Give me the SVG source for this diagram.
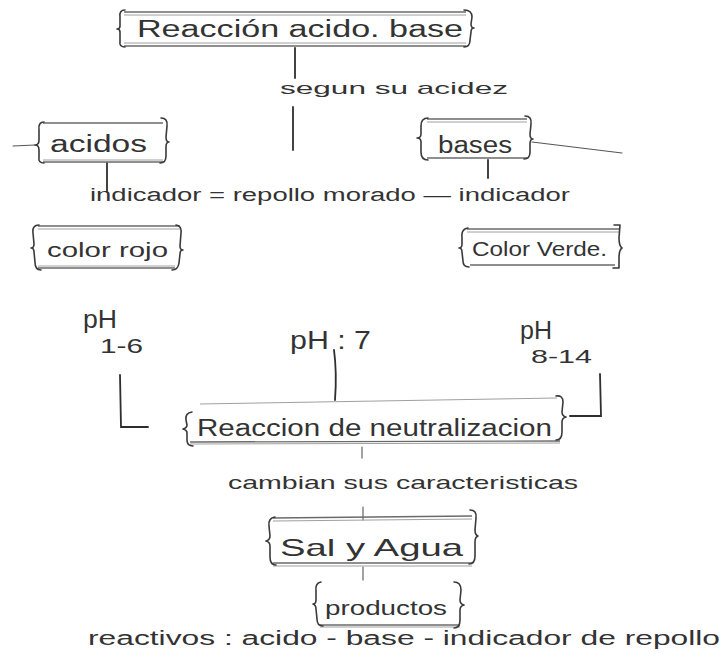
<svg xmlns="http://www.w3.org/2000/svg" width="728" height="653" viewBox="0 0 728 653">
  <style>
    .bg { fill: #ffffff; }
    .hand { font-family: "Liberation Sans", "DejaVu Sans", sans-serif; fill: #333333; }
    .brace { fill: none; stroke: #3a3a3a; stroke-width: 1.6; stroke-linecap: round; stroke-linejoin: round; }
    .rule { fill: none; stroke: #6a6a6a; stroke-width: 1.4; }
    .rule2 { fill: none; stroke: #a0a0a0; stroke-width: 1; }
    .link { fill: none; stroke: #2e2e2e; stroke-width: 1.8; stroke-linecap: round; }
    .thin { fill: none; stroke: #555555; stroke-width: 1.1; stroke-linecap: round; }
  </style>

  <rect class="bg" x="0" y="0" width="728" height="653"/>

  <!-- connectors -->
  <g id="connectors">
    <path class="link" d="M295 48 L295 78"/>
    <path class="link" d="M293 107 L293 150"/>
    <path class="thin" d="M13 146 L35 145"/>
    <path class="thin" d="M532 142 L622 153"/>
    <path class="link" d="M107 163 L107 192"/>
    <path class="link" d="M488 160 L488 178"/>
    <path class="link" d="M120 375 L121 427 L148 427"/>
    <path class="link" d="M334 350 Q337 372 335 400"/>
    <path class="link" d="M600 374 L601 416 L570 416"/>
    <path class="thin" d="M362 447 L362 458"/>
    <path class="thin" d="M363 507 L363 520"/>
    <path class="thin" d="M363 567 L363 580"/>
  </g>

  <!-- Reacción acido. base -->
  <g id="node-reaccion">
    <path class="rule" d="M124 12 L466 12"/>
    <path class="rule2" d="M124 15 L466 15"/>
    <path class="rule" d="M124 46 L466 46"/>
    <path class="rule2" d="M124 43 L466 43"/>
    <path class="brace" d="M125 10 Q119 10 120 17 L120 26 Q120 29 117 29 Q120 29 120 32 L120 41 Q119 47 125 47"/>
    <path class="brace" d="M464 10 Q472 10 472 17 L471 24 Q471 28 474 28 Q471 28 471 32 L470 40 Q470 47 464 47"/>
    <text class="hand" x="137" y="37" font-size="23" textLength="326" lengthAdjust="spacingAndGlyphs">Reacción  acido. base</text>
  </g>

  <g id="label-segun">
    <text class="hand" x="280" y="94" font-size="17" textLength="228" lengthAdjust="spacingAndGlyphs">segun  su acidez</text>
  </g>

  <!-- acidos -->
  <g id="node-acidos">
    <path class="rule" d="M43 123 L163 123"/>
    <path class="rule2" d="M43 160 L163 160"/>
    <path class="rule" d="M43 162 L163 162"/>
    <path class="brace" d="M44 122 Q38 122 39 130 L39 140 Q39 145 35 145 Q39 145 39 150 L39 157 Q38 163 44 163"/>
    <path class="brace" d="M161 118 Q168 118 167 126 L166 137 Q166 142 169 142 Q166 142 166 147 L166 156 Q166 163 160 163"/>
    <text class="hand" x="50" y="152" font-size="23" textLength="97" lengthAdjust="spacingAndGlyphs">acidos</text>
  </g>

  <!-- bases -->
  <g id="node-bases">
    <path class="rule" d="M427 119 L527 119"/>
    <path class="rule2" d="M427 122 L527 122"/>
    <path class="rule" d="M427 158 L527 158"/>
    <path class="brace" d="M428 118 Q421 118 421 126 L421 134 Q421 138 417 138 Q421 138 421 142 L421 152 Q421 160 428 160"/>
    <path class="brace" d="M525 116 Q532 116 531 124 L530 134 Q530 139 533 139 Q530 139 530 144 L530 152 Q530 159 524 159"/>
    <text class="hand" x="438" y="153" font-size="23" textLength="74" lengthAdjust="spacingAndGlyphs">bases</text>
  </g>

  <g id="label-indicador">
    <text class="hand" x="90" y="201" font-size="18" textLength="480" lengthAdjust="spacingAndGlyphs">indicador = repollo morado — indicador</text>
  </g>

  <!-- color rojo -->
  <g id="node-rojo">
    <path class="rule" d="M38 226 L180 226"/>
    <path class="rule2" d="M38 229 L180 229"/>
    <path class="rule" d="M38 268 L175 268"/>
    <path class="rule2" d="M38 266 L175 266"/>
    <path class="brace" d="M39 225 Q32 225 33 233 L34 244 Q34 248 31 248 Q34 248 34 252 L35 262 Q35 270 41 270"/>
    <path class="brace" d="M176 225 Q182 226 181 233 L180 246 Q180 250 183 250 Q180 250 180 254 L179 263 Q178 270 172 270"/>
    <text class="hand" x="47" y="257" font-size="21" textLength="121" lengthAdjust="spacingAndGlyphs">color rojo</text>
  </g>

  <!-- Color Verde. -->
  <g id="node-verde">
    <path class="rule" d="M467 229 L620 229"/>
    <path class="rule2" d="M467 232 L620 232"/>
    <path class="rule" d="M470 265 L615 265"/>
    <path class="brace" d="M468 228 Q461 229 462 237 L462 244 Q462 248 459 248 Q462 248 462 252 L463 261 Q463 267 469 267"/>
    <path class="brace" d="M614 225 L620 225 L619 238 Q619 246 622 248 Q619 250 619 258 L619 268 L613 268"/>
    <text class="hand" x="472" y="256" font-size="20" textLength="135" lengthAdjust="spacingAndGlyphs">Color Verde.</text>
  </g>

  <!-- pH values -->
  <g id="node-ph-acido">
    <text class="hand" x="83" y="328" font-size="26" textLength="34" lengthAdjust="spacingAndGlyphs">pH</text>
    <text class="hand" x="100" y="353" font-size="21" textLength="43" lengthAdjust="spacingAndGlyphs">1-6</text>
  </g>
  <g id="node-ph-neutro">
    <text class="hand" x="290" y="349" font-size="25" textLength="81" lengthAdjust="spacingAndGlyphs">pH : 7</text>
  </g>
  <g id="node-ph-base">
    <text class="hand" x="520" y="339" font-size="26" textLength="32" lengthAdjust="spacingAndGlyphs">pH</text>
    <text class="hand" x="531" y="363" font-size="19" textLength="61" lengthAdjust="spacingAndGlyphs">8-14</text>
  </g>

  <!-- Reaccion de neutralizacion -->
  <g id="node-neutralizacion">
    <path class="rule2" d="M200 404 L557 398"/>
    <path class="rule" d="M190 442 L560 441"/>
    <path class="rule2" d="M190 444 L560 443"/>
    <path class="brace" d="M192 412 Q185 413 186 420 L187 425 Q187 428 183 429 Q187 430 187 433 L187 440 Q187 446 193 446"/>
    <path class="brace" d="M556 396 Q563 395 563 402 L562 412 Q562 416 566 417 Q562 418 562 422 L562 432 Q562 440 556 440"/>
    <text class="hand" x="197" y="436" font-size="23" textLength="355" lengthAdjust="spacingAndGlyphs">Reaccion  de  neutralizacion</text>
  </g>

  <g id="label-cambian">
    <text class="hand" x="228" y="489" font-size="19" textLength="350" lengthAdjust="spacingAndGlyphs">cambian  sus caracteristicas</text>
  </g>

  <!-- Sal y Agua -->
  <g id="node-sal">
    <path class="rule" d="M273 518 L472 516"/>
    <path class="rule2" d="M273 521 L472 519"/>
    <path class="rule" d="M273 563 L472 563"/>
    <path class="rule2" d="M273 566 L472 566"/>
    <path class="brace" d="M275 517 Q268 518 269 526 L270 536 Q270 540 266 541 Q270 542 270 546 L270 557 Q270 565 276 565"/>
    <path class="brace" d="M470 510 Q477 510 476 518 L475 530 Q475 535 478 536 Q475 537 475 542 L475 556 Q475 564 469 564"/>
    <text class="hand" x="280" y="556" font-size="24" textLength="183" lengthAdjust="spacingAndGlyphs">Sal  y  Agua</text>
  </g>

  <!-- productos -->
  <g id="node-productos">
    <path class="rule" d="M320 625 L460 625"/>
    <path class="rule2" d="M320 627 L460 627"/>
    <path class="brace" d="M321 582 Q315 583 316 591 L316 600 Q316 604 313 604 Q316 605 316 609 L317 619 Q317 626 323 626"/>
    <path class="brace" d="M454 582 Q461 582 461 590 L460 600 Q460 604 464 605 Q460 606 460 610 L460 620 Q460 628 454 628"/>
    <text class="hand" x="325" y="615" font-size="21" textLength="122" lengthAdjust="spacingAndGlyphs">productos</text>
  </g>

  <g id="label-reactivos">
    <text class="hand" x="88" y="645" font-size="20" textLength="632" lengthAdjust="spacingAndGlyphs">reactivos  :  acido - base - indicador de repollo</text>
  </g>
</svg>
